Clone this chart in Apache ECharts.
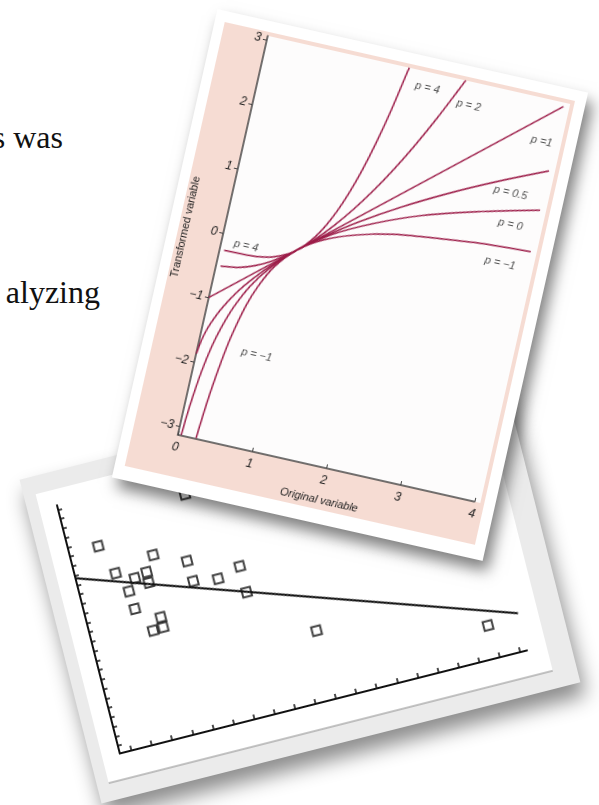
<!DOCTYPE html>
<html>
<head>
<meta charset="utf-8">
<script src="https://cdn.jsdelivr.net/npm/echarts@6/dist/echarts.min.js"></script>
<style>
  html, body { margin: 0; padding: 0; background: #fff; overflow: hidden; }
  body { width: 599px; height: 805px; position: relative; }
  .page-text {
    position: absolute;
    white-space: nowrap;
    font-family: "Liberation Serif", "DejaVu Serif", serif;
    font-size: 32px;
    line-height: 32px;
    color: #111;
    text-align: right;
  }
  #card-scatter {
    position: absolute;
    left: 53px; top: 414px;
    width: 494px; height: 334px;
    background: #ebebeb;
    transform: rotate(-14.2deg);
    box-shadow: 2px 14px 20px rgba(0, 0, 0, 0.45);
    z-index: 1;
  }
  #card-transform {
    position: absolute;
    left: 160px; top: 45px;
    width: 380px; height: 480px;
    background: #fff;
    transform: rotate(12.7deg);
    box-shadow: 7px 9px 14px rgba(0, 0, 0, 0.5);
    z-index: 2;
  }
  #transform-chart { width: 380px; height: 480px; }
  #scatter-chart { width: 494px; height: 334px; }
</style>
</head>
<body>
<div class="page-text" style="right:536px; top:121px;">s was</div>
<div class="page-text" style="right:499px; top:276px;">alyzing</div>

<div id="card-scatter"><div id="scatter-chart"></div></div>
<div id="card-transform"><div id="transform-chart"></div></div>

<script>
// ---- transformation plot (power transforms) ----
const yTicks = [-3, -2, -1, 0, 1, 2, 3]
const xTicks = [0, 1, 2, 3, 4]

const p4Curve = [[0.06, -0.25], [0.3, -0.248], [0.5, -0.234], [0.7, -0.19], [0.9, -0.086], [1.0, 0], [1.1, 0.116],
  [1.2, 0.268], [1.3, 0.464], [1.4, 0.71], [1.5, 1.016], [1.6, 1.388], [1.7, 1.838], [1.8, 2.374], [1.9, 3.008], [1.91, 3.06]]
const p2Curve = [[0.06, -0.498], [0.3, -0.455], [0.5, -0.375], [0.7, -0.255], [0.9, -0.095], [1.0, 0], [1.2, 0.22],
  [1.4, 0.48], [1.6, 0.78], [1.8, 1.12], [2.0, 1.5], [2.2, 1.92], [2.4, 2.38], [2.6, 2.88], [2.67, 3.06]]
const p1Curve = [[0, -1], [4, 3]]
const pHalfCurve = [[0.004, -1.87], [0.02, -1.72], [0.05, -1.55], [0.1, -1.37], [0.2, -1.11], [0.35, -0.82], [0.5, -0.59],
  [0.7, -0.33], [1.0, 0], [1.3, 0.28], [1.7, 0.61], [2.2, 0.97], [2.8, 1.35], [3.4, 1.69], [4.0, 2.0]]
const p0Curve = [[0.044, -3.12], [0.06, -2.81], [0.08, -2.53], [0.12, -2.12], [0.18, -1.71], [0.25, -1.39], [0.35, -1.05],
  [0.5, -0.69], [0.7, -0.36], [1.0, 0], [1.4, 0.34], [1.9, 0.64], [2.5, 0.92], [3.2, 1.16], [4.0, 1.39]]
const pNeg1Curve = [[0.243, -3.12], [0.27, -2.7], [0.3, -2.33], [0.35, -1.86], [0.4, -1.5], [0.5, -1.0], [0.6, -0.67],
  [0.75, -0.33], [1.0, 0], [1.3, 0.23], [1.7, 0.41], [2.2, 0.55], [2.8, 0.64], [3.4, 0.71], [4.0, 0.75]]

// label text, x, y (data units)
const curveLabels = [
  ['p = 4', 2.2, 2.82], ['p = 2', 2.78, 2.7], ['p =1', 3.82, 2.41], ['p = 0.5', 3.57, 1.55],
  ['p = 0', 3.66, 1.08], ['p = −1', 3.64, 0.47], ['p = 4', 0.33, -0.11], ['p = −1', 0.78, -1.69]
]

// ---- scatter plot with fitted line ----
const scatterPoints = [[0.85, 20.36], [1.33, 17.24], [2.16, 16.25], [2.77, 16.56], [2.75, 15.45], [1.74, 15.10],
  [1.80, 13.21], [3.27, 18.11], [2.90, 11.71], [2.39, 10.58], [2.89, 10.67], [4.76, 16.63], [4.81, 14.48],
  [5.98, 14.10], [7.12, 14.78], [7.13, 12.05], [9.90, 6.47], [17.84, 2.67], [5.43, 23.32]]
const fitLine = [[-0.82, 17.93], [19.36, 3.13]]
const scatterXTicks = Array.from({length: 20}, (_, i) => i)
const scatterYTicks = Array.from({length: 26}, (_, i) => i)

const curveColor = '#9c1c48'
const minus = v => (v < 0 ? '−' + (-v) : String(v))

function curve(data) {
  return {
    type: 'line', data: data, smooth: 0.3, symbol: 'none', silent: true,
    lineStyle: {color: curveColor, width: 1.5}
  }
}

function initTransformChart() {
  const chart = echarts.init(document.getElementById('transform-chart'), null, {renderer: 'canvas'})
  const option = {
    animation: false,
    graphic: [
      {type: 'rect', shape: {x: 10, y: 11, width: 359, height: 455}, style: {fill: '#f6dcd3'}, z: -10},
      {type: 'rect', shape: {x: 55, y: 15, width: 310, height: 409}, style: {fill: '#fdfcfc'}, z: -9}
    ],
    grid: {left: 55, top: 15, width: 304, height: 409},
    xAxis: {
      type: 'value', min: 0, max: 4,
      name: 'Original variable', nameLocation: 'middle', nameGap: 27,
      nameTextStyle: {fontSize: 11, fontStyle: 'italic', color: '#222', fontFamily: 'Liberation Sans'},
      axisLine: {onZero: false, lineStyle: {color: '#444', width: 1.5}},
      axisTick: {inside: true, length: 4, customValues: xTicks, lineStyle: {color: '#444'}},
      axisLabel: {customValues: xTicks, margin: 7, fontSize: 12, fontStyle: 'italic', color: '#222',
        fontFamily: 'Liberation Sans'},
      splitLine: {show: false}
    },
    yAxis: {
      type: 'value', min: -3.13, max: 3.06,
      name: 'Transformed variable', nameLocation: 'middle', nameGap: 33,
      nameTextStyle: {fontSize: 11, color: '#222', fontFamily: 'Liberation Sans'},
      axisLine: {onZero: false, lineStyle: {color: '#444', width: 1.5}},
      axisTick: {length: 4, customValues: yTicks, lineStyle: {color: '#444'}},
      axisLabel: {customValues: yTicks, margin: 6, fontSize: 12, fontStyle: 'italic', color: '#222',
        fontFamily: 'Liberation Sans', formatter: minus},
      splitLine: {show: false}
    },
    series: [
      curve(p4Curve), curve(p2Curve), curve(p1Curve), curve(pHalfCurve), curve(p0Curve), curve(pNeg1Curve),
      {
        type: 'scatter', symbolSize: 0, silent: true,
        data: curveLabels.map(l => ({name: l[0], value: [l[1], l[2]]})),
        label: {
          show: true, position: 'inside', formatter: '{b}',
          fontSize: 11, fontStyle: 'italic', color: '#222', fontFamily: 'Liberation Sans'
        }
      }
    ]
  }
  chart.setOption(option)
}

function initScatterChart() {
  const chart = echarts.init(document.getElementById('scatter-chart'), null, {renderer: 'canvas'})
  const option = {
    animation: false,
    graphic: [
      {type: 'rect', shape: {x: 12, y: 18, width: 458, height: 298}, style: {fill: '#fff'}, z: -10},
      {type: 'line', shape: {x1: 12, y1: 316, x2: 470, y2: 316}, style: {stroke: '#8a8a8a', lineWidth: 1}, z: -9}
    ],
    grid: {left: 30, top: 34, width: 420, height: 256},
    xAxis: {
      type: 'value', min: -0.57, max: 19.34,
      axisLine: {onZero: false, lineStyle: {color: '#111', width: 2}},
      axisTick: {inside: true, length: 5, customValues: scatterXTicks, lineStyle: {color: '#111', width: 1.5}},
      axisLabel: {show: false},
      splitLine: {show: false}
    },
    yAxis: {
      type: 'value', min: -0.8, max: 25.46,
      axisLine: {onZero: false, lineStyle: {color: '#111', width: 2}},
      axisTick: {inside: true, length: 4, customValues: scatterYTicks, lineStyle: {color: '#111', width: 1.5}},
      axisLabel: {show: false},
      splitLine: {show: false}
    },
    series: [
      {
        type: 'line', data: fitLine, symbol: 'none', clip: false, silent: true,
        lineStyle: {color: '#111', width: 2}
      },
      {
        type: 'scatter', data: scatterPoints, symbol: 'rect', symbolSize: 9, silent: true,
        itemStyle: {color: 'rgba(0,0,0,0)', borderColor: '#111', borderWidth: 2}
      }
    ]
  }
  chart.setOption(option)
}

initScatterChart()
initTransformChart()
</script>
</body>
</html>
